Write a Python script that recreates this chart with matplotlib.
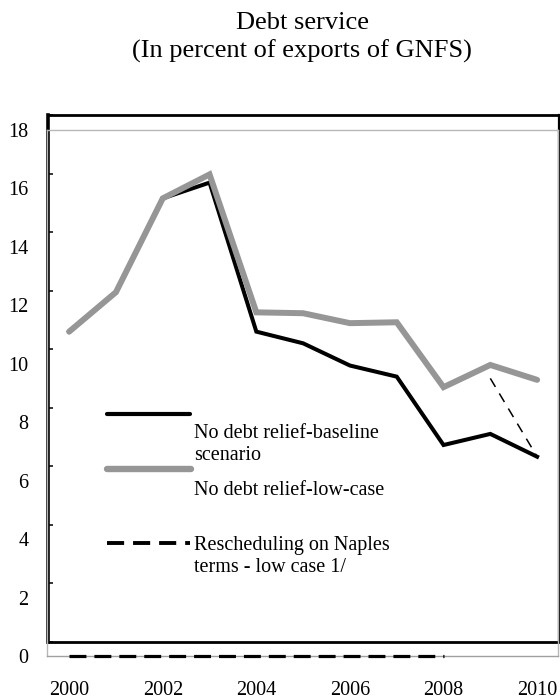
import matplotlib
matplotlib.use("Agg")
import matplotlib.pyplot as plt
from matplotlib.lines import Line2D

plt.rcParams["font.family"] = ["Liberation Serif", "DejaVu Serif"]

title = "Debt service\n(In percent of exports of GNFS)"
years = list(range(2000, 2011))
baseline = [11.1, 12.45, 15.66, 16.2, 11.1, 10.7, 9.94, 9.56, 7.22, 7.6, 6.82]
low_case = [11.1, 12.45, 15.66, 16.48, 11.76, 11.73, 11.39, 11.42, 9.2, 9.96, 9.45]
# Naples rescheduling: flat at zero through 2008, separate segment 2009-2010
naples = [0, 0, 0, 0, 0, 0, 0, 0, 0, 9.5, 6.82]
naples_split = 9
labels = ["No debt relief-baseline\nscenario",
          "No debt relief-low-case",
          "Rescheduling on Naples\nterms - low case 1/"]
yticks = list(range(0, 19, 2))
xticks = list(range(2000, 2011, 2))

W, H = 560, 700
fig = plt.figure(figsize=(W / 100, H / 100), dpi=100, facecolor="white")


def px(x, y):
    return x / W, 1 - y / H


# black plot-area box (ticks only, slightly offset like the Excel original)
box = fig.add_axes([48.3 / W, 1 - 641.7 / H, (559 - 48.3) / W, (641.7 - 115) / H])
box.set_ylim(0, 18)
box.set_yticks(yticks)
box.set_xticks([])
box.tick_params(axis="y", direction="in", length=3.8, width=1.1, color="black",
                labelleft=False)
for s in box.spines.values():
    s.set_color("black")
    s.set_linewidth(2.0)
box.spines["left"].set_linewidth(2.6)
box.spines["right"].set_linewidth(1.6)

# data axes with grey frame
ax = fig.add_axes([46.7 / W, 1 - 656 / H, (557.7 - 46.7) / W, (656 - 130) / H])
ax.set_facecolor("none")
ax.set_xlim(1999.52, 2010.44)
ax.set_ylim(0, 18)
ax.set_yticks(yticks)
ax.set_xticks(xticks)
ax.tick_params(length=0, labelsize=14.5)
ax.tick_params(axis="y", pad=13)
ax.tick_params(axis="x", pad=18)
for s in ax.spines.values():
    s.set_color("#b8b8b8")
    s.set_linewidth(1.0)
ax.spines["bottom"].set_color("#a0a0a0")

ax.plot(years, baseline, color="black", lw=2.9, solid_joinstyle="miter", zorder=3)
ax.plot(years, low_case, color="#969696", lw=4.3, solid_joinstyle="miter",
        solid_capstyle="round", zorder=4)
ax.plot(years[:naples_split], naples[:naples_split], color="black", lw=2.3,
        dashes=(5.3, 2.5), clip_on=False, zorder=5)
ax.plot(years[naples_split:], naples[naples_split:], color="black", lw=1.1,
        dashes=(6.5, 5), zorder=5)

# legend drawn by hand (Excel-style layout)
fig.add_artist(Line2D([px(107, 0)[0], px(190, 0)[0]], [px(0, 414)[1]] * 2,
                      color="black", lw=3.0, solid_capstyle="round"))
fig.add_artist(Line2D([px(107, 0)[0], px(191, 0)[0]], [px(0, 469)[1]] * 2,
                      color="#969696", lw=4.6, solid_capstyle="round"))
fig.add_artist(Line2D([px(107, 0)[0], px(190, 0)[0]], [px(0, 543)[1]] * 2,
                      color="black", lw=2.8, dashes=(4.4, 2.3), solid_capstyle="butt"))

for lab, (x, y) in zip(labels, [(194, 425), (194, 482), (194, 537)]):
    fx, fy = px(x, y - 1)
    fig.text(fx, fy, lab, ha="left", va="top", fontsize=14.5, linespacing=1.2)

tx, ty = px(302, 12)
fig.text(tx, ty, title, ha="center", va="top", fontsize=19, linespacing=1.3)

fig.savefig("out.png", dpi=100, facecolor="white")
